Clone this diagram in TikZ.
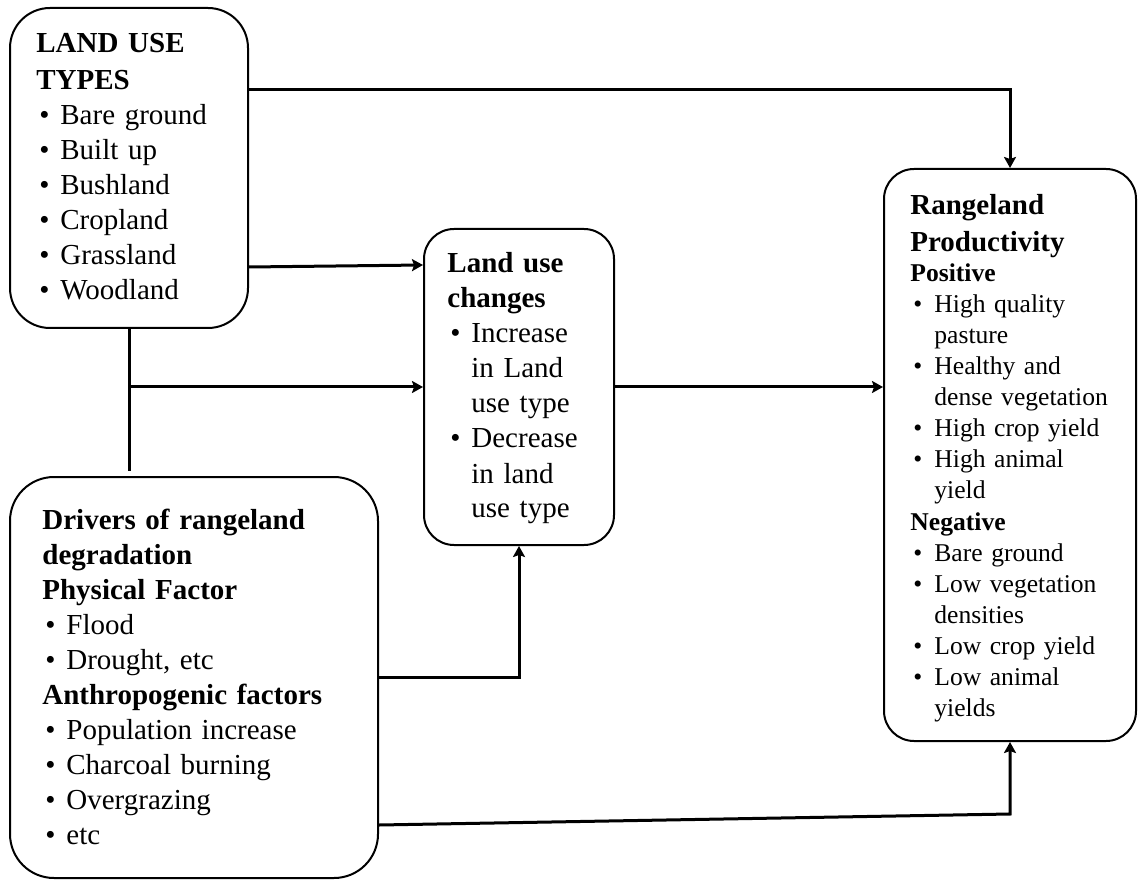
\documentclass[tikz,border=0pt]{standalone}
\usepackage{fontspec}
\setmainfont{Liberation Serif}
\usetikzlibrary{arrows.meta,positioning}

\newcommand{\bul}{\hspace*{1.5pt}\makebox[10.5pt][l]{\textbullet}}
\newcommand{\cnt}{\hspace*{12pt}}

\begin{document}
\begin{tikzpicture}[x=0.5pt, y=-0.5pt,
	box/.style={rectangle, rounded corners=15pt, draw, line width=1pt, inner sep=0pt},
	txt/.style={anchor=base west, inner sep=0pt, align=left, text width=200pt, font=\fontsize{14.5}{17.5}\selectfont},
	small/.style={font=\fontsize{12.8}{15.5}\selectfont},
	conn/.style={-{Stealth[length=5.5pt, width=6pt, inset=1pt]}, line width=1.5pt}]
	\useasboundingbox (0,0) rectangle (1138,881);

	% boxes
	\node[box, rounded corners=20pt, minimum width=119pt, minimum height=160pt] (types) at (129,168) {};
	\node[box, minimum width=95pt, minimum height=158pt] (changes) at (519,387) {};
	\node[box, minimum width=126pt, minimum height=286pt] (prod) at (1010,455) {};
	\node[box, rounded corners=22pt, minimum width=184pt, minimum height=200.5pt] (drivers) at (194,677.5) {};

	% texts
	\node[txt] (types text) at (36,53) {\textbf{LAND USE}\\[1pt]
		\textbf{TYPES}\\
		\bul Bare ground\\
		\bul Built up\\
		\bul Bushland\\
		\bul Cropland\\
		\bul Grassland\\
		\bul Woodland};
	\node[txt] (changes text) at (447,273) {\textbf{Land use}\\
		\textbf{changes}\\
		\bul Increase\\
		\cnt in Land\\
		\cnt use type\\
		\bul Decrease\\
		\cnt in land\\
		\cnt use type};
	\node[txt, small] (prod text) at (910,215) {{\fontsize{14.5}{17.5}\selectfont\bfseries Rangeland}\\[3pt]
		{\fontsize{14.5}{17.5}\selectfont\bfseries Productivity}\\[-0.5pt]
		\textbf{Positive}\\
		\bul High quality\\
		\cnt pasture\\
		\bul Healthy and\\
		\cnt dense vegetation\\
		\bul High crop yield\\
		\bul High animal\\
		\cnt yield\\
		\textbf{Negative}\\
		\bul Bare ground\\
		\bul Low vegetation\\
		\cnt densities\\
		\bul Low crop yield\\
		\bul Low animal\\
		\cnt yields};
	\node[txt] (drivers text) at (42,529) {\textbf{Drivers of rangeland}\\
		\textbf{degradation}\\
		\textbf{Physical Factor}\\
		\bul Flood\\
		\bul Drought, etc\\
		\textbf{Anthropogenic factors}\\
		\bul Population increase\\
		\bul Charcoal burning\\
		\bul Overgrazing\\
		\bul etc};

	% connectors
	\draw[conn] ([yshift=39pt]types.east) -| (prod.north);
	\draw[conn] ([yshift=-49.5pt]types.east) -- ([yshift=61pt]changes.west);
	\draw[line width=1.5pt] (types.south) -- ([yshift=2.5pt]types.south |- drivers.north);
	\draw[conn] (types.south |- changes.west) -- (changes.west);
	\draw[conn] (changes.east) -- (changes.east -| prod.west);
	\draw[conn] (drivers.east) -| (changes.south);
	\coordinate (bend) at ([yshift=-36pt]prod.south);
	\draw[conn] ([yshift=-73.75pt]drivers.east) -- (bend) -- (prod.south);
\end{tikzpicture}
\end{document}
